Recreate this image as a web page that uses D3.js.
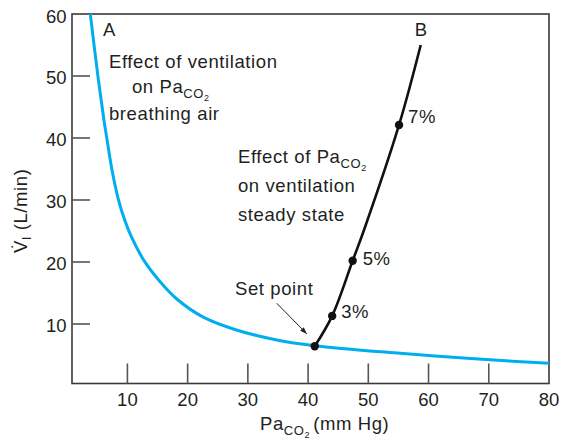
<!DOCTYPE html>
<html>
<head>
<meta charset="utf-8">
<script src="https://cdn.jsdelivr.net/npm/d3@7/dist/d3.min.js"></script>
<style>
  html, body { margin: 0; padding: 0; background: #fff; }
  svg { display: block; }
  text { font-family: "Liberation Sans", Arial, sans-serif; fill: #231f20; }
</style>
</head>
<body>
<svg id="chart" width="564" height="444"></svg>
<script>
// ---- data ----
const xTicks = [10, 20, 30, 40, 50, 60, 70, 80];
const yTicks = [10, 20, 30, 40, 50, 60];

// Curve A: effect of ventilation on PaCO2 breathing air
const curveAx = [3.84, 5.1, 6.1, 6.61, 7.45, 8.55, 9.55, 10.65, 12.87, 15.36, 18.3, 22.6, 28.1, 34.8, 41.1, 55.3, 66.4, 80];
const curveAy = [60, 50, 42.9, 39.8, 34.8, 29.9, 26.77, 24.08, 20.05, 16.9, 13.95, 11.1, 9.03, 7.42, 6.5, 5.27, 4.46, 3.66];

// Curve B: effect of PaCO2 on ventilation (steady state)
const curveBx = [41.1, 44.0, 47.4, 49.3, 55.1, 58.7];
const curveBy = [6.4, 11.3, 20.2, 25.2, 42.1, 55.0];

// marked points on curve B
const pointX = [41.1, 44.0, 47.4, 55.1];
const pointY = [6.4, 11.3, 20.2, 42.1];
const pointLabels = ["", "3%", "5%", "7%"];

// ---- layout ----
const svg = d3.select("#chart");
const x = d3.scaleLinear().domain([0.8, 80]).range([72, 549]);
const y = d3.scaleLinear().domain([0.4, 60]).range([383.5, 14]);

const ink = "#231f20";
const frameColor = "#3a3a3a";
const tickColor = "#555";
const blue = "#00aeef";
const FS = 18.5;

// frame
svg.append("rect")
  .attr("x", x(0.8)).attr("y", y(60))
  .attr("width", x(80) - x(0.8)).attr("height", y(0.4) - y(60))
  .attr("fill", "none").attr("stroke", frameColor).attr("stroke-width", 1.6);

// y ticks (inward) and labels
const gy = svg.append("g");
gy.selectAll("line").data(yTicks.filter(d => d < 60)).join("line")
  .attr("x1", x(0.8)).attr("x2", x(0.8) + 18)
  .attr("y1", d => y(d)).attr("y2", d => y(d))
  .attr("stroke", tickColor).attr("stroke-width", 1.6);
gy.selectAll("text").data(yTicks).join("text")
  .attr("x", x(0.8) - 5.5).attr("y", d => y(d) + 8.5)
  .attr("text-anchor", "end").attr("font-size", FS)
  .text(d => d);

// x ticks (inward) and labels
const gx = svg.append("g");
gx.selectAll("line").data(xTicks.filter(d => d < 80)).join("line")
  .attr("x1", d => x(d)).attr("x2", d => x(d))
  .attr("y1", y(0.4)).attr("y2", y(0.4) - 20)
  .attr("stroke", tickColor).attr("stroke-width", 1.6);
gx.selectAll("text").data(xTicks).join("text")
  .attr("x", d => x(d)).attr("y", 406)
  .attr("text-anchor", "middle").attr("font-size", FS)
  .text(d => d);

// helper: write "PaCO2" with nested subscripts
function paco2(t) {
  t.append("tspan").text("Pa");
  t.append("tspan").attr("font-size", 13).attr("dy", 5).text("CO");
  t.append("tspan").attr("font-size", 9).attr("dy", 3).text("2");
  return t;
}

// axis titles
const xt = svg.append("text").attr("x", 260).attr("y", 430)
  .attr("font-size", FS).attr("letter-spacing", 0.6);
paco2(xt);
xt.append("tspan").attr("dy", -8).attr("dx", 3).text("(mm Hg)");

const yt = svg.append("text").attr("transform", "translate(27,253) rotate(-90)")
  .attr("font-size", FS).attr("letter-spacing", 0.6);
yt.append("tspan").text("V\u0307");
yt.append("tspan").attr("font-size", 12).attr("dy", 4).text("I");
yt.append("tspan").attr("dy", -4).text(" (L/min)");

// curves
const line = d3.line().x(d => x(d[0])).y(d => y(d[1])).curve(d3.curveCatmullRom.alpha(0.5));
svg.append("path")
  .datum(d3.zip(curveAx, curveAy))
  .attr("d", line)
  .attr("fill", "none").attr("stroke", blue).attr("stroke-width", 3);

const lineB = d3.line().x(d => x(d[0])).y(d => y(d[1])).curve(d3.curveCatmullRom);
svg.append("path")
  .datum(d3.zip(curveBx, curveBy))
  .attr("d", lineB)
  .attr("fill", "none").attr("stroke", "#111").attr("stroke-width", 2.6);

// points
svg.selectAll("circle.pt").data(d3.zip(pointX, pointY)).join("circle")
  .attr("class", "pt")
  .attr("cx", d => x(d[0])).attr("cy", d => y(d[1])).attr("r", 4.2)
  .attr("fill", "#111");

// percent labels
const labOff = [[0, 0], [9, 2], [10, 4], [9, -2]];
svg.selectAll("text.pct").data(d3.zip(pointX, pointY, pointLabels, labOff).filter(d => d[2])).join("text")
  .attr("class", "pct")
  .attr("x", d => x(d[0]) + d[3][0]).attr("y", d => y(d[1]) + d[3][1])
  .attr("font-size", FS).attr("letter-spacing", 0.6)
  .text(d => d[2]);

// annotations (data units)
function label(xv, yv, txt, anchor) {
  return svg.append("text").attr("x", x(xv)).attr("y", y(yv))
    .attr("font-size", FS).attr("letter-spacing", 0.6)
    .attr("text-anchor", anchor || "start").text(txt);
}
label(5.95, 56.45, "A");
label(58.8, 56.45, "B", "middle");
label(6.94, 51.3, "Effect of ventilation");
paco2(svg.append("text").attr("x", x(10.76)).attr("y", y(47.25))
  .attr("font-size", FS).attr("letter-spacing", 0.6).text("on "));
label(6.94, 42.9, "breathing air");
paco2(svg.append("text").attr("x", x(28.36)).attr("y", y(35.96))
  .attr("font-size", FS).attr("letter-spacing", 0.6).text("Effect of "));
label(28.36, 31.3, "on ventilation");
label(28.36, 26.6, "steady state");
label(27.86, 14.67, "Set point");

// arrow to set point
const arrowFrom = [34.79, 13.34];
const arrowTo = [39.8, 8.4];
svg.append("defs").append("marker")
  .attr("id", "ah").attr("viewBox", "0 0 10 10").attr("refX", 10).attr("refY", 5)
  .attr("markerWidth", 7).attr("markerHeight", 7).attr("orient", "auto")
  .attr("markerUnits", "userSpaceOnUse")
  .append("path").attr("d", "M0,1.5 L10,5 L0,8.5 Z").attr("fill", ink);
svg.append("line")
  .attr("x1", x(arrowFrom[0])).attr("y1", y(arrowFrom[1]))
  .attr("x2", x(arrowTo[0])).attr("y2", y(arrowTo[1]))
  .attr("stroke", ink).attr("stroke-width", 1)
  .attr("marker-end", "url(#ah)");
</script>
</body>
</html>
